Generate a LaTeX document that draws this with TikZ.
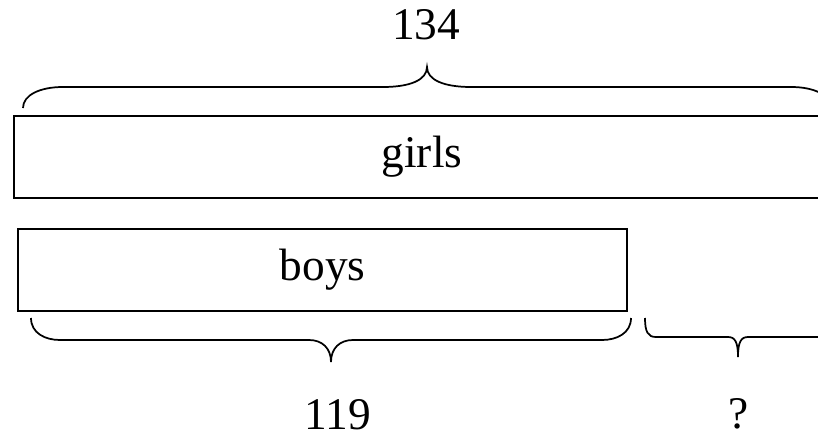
\documentclass[tikz,border=0pt]{standalone}
\usepackage{fontspec}
\setmainfont{Liberation Serif}
\begin{document}
\begin{tikzpicture}[x=0.75pt,y=-0.75pt,
  bar/.style={draw, line width=1.3pt, inner sep=0pt, minimum height=61.5pt},
  brace/.style={draw, line width=1.3pt},
  lbl/.style={inner sep=0pt, font=\fontsize{34}{40}\selectfont}]
\useasboundingbox (0,0) rectangle (818,439);
\clip (0,0) rectangle (818,439);
\fill[white] (0,0) rectangle (818,439);
\node[bar, minimum width=612pt, lbl] (girls) at (422,157) {girls};
\node[bar, minimum width=456.75pt, lbl] (boys) at (322.5,270) {boys};
\node[lbl] (total) at (426,25) {134};
\node[lbl] (nboys) at (338,415) {119};
\node[lbl] (diff) at (739,414) {?};
\draw[brace] (23,108) .. controls (23,95) and (40,87) .. (63,87) -- (383,87)
  .. controls (410,87) and (427,80) .. (427,67)
  .. controls (427,80) and (444,87) .. (471,87) -- (791,87)
  .. controls (814,87) and (831,95) .. (831,108);
\draw[brace] (31,318) .. controls (31,333) and (45,340) .. (60,340) -- (309,340)
  .. controls (322,340) and (331,348) .. (331,362)
  .. controls (331,348) and (340,340) .. (353,340) -- (602,340)
  .. controls (617,340) and (631,333) .. (631,318);
\draw[brace] (645,318) .. controls (645,332) and (648,337) .. (656,337) -- (728,337)
  .. controls (735,337) and (738,342) .. (738,357)
  .. controls (738,342) and (741,337) .. (748,337) -- (820,337)
  .. controls (828,337) and (831,332) .. (831,318);
\end{tikzpicture}
\end{document}
